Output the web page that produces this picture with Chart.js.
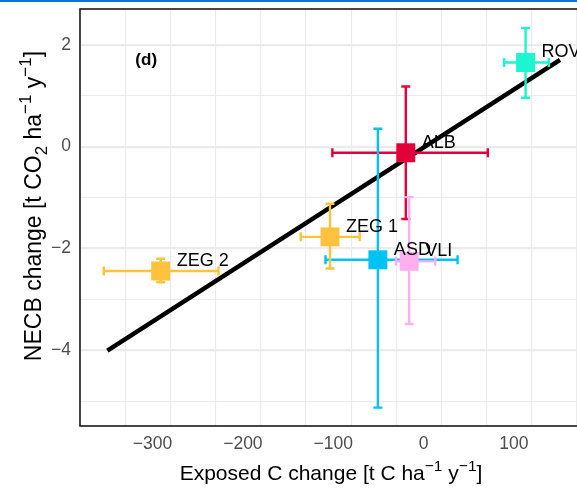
<!DOCTYPE html>
<html>
<head>
<meta charset="utf-8">
<script src="https://cdn.jsdelivr.net/npm/chart.js@4.4.1/dist/chart.umd.min.js"></script>
<style>
    html, body { margin: 0; padding: 0; background: #fff; overflow: hidden; }
    canvas { display: block; }
</style>
</head>
<body>
<canvas id="necbChart" width="577" height="489"></canvas>
<script>
// Site values
const sites = ['ALB', 'ASD', 'ROV', 'VLI', 'ZEG 1', 'ZEG 2'];
const exposedC = [-19.7, -50.6, 112.9, -16, -103.6, -291];
const exposedLow = [-101, -108.6, 89.2, -30.5, -136, -354];
const exposedHigh = [71.1, 37.6, 138.6, 12.9, -70.7, -227];
const necb = [-0.12, -2.22, 1.65, -2.25, -1.77, -2.44];
const necbLow = [-1.42, -5.12, 0.96, -3.48, -2.39, -2.66];
const necbHigh = [1.18, 0.35, 2.33, -0.99, -1.12, -2.20];
const siteColors = ['#E2003A', '#00C2F3', '#1CF5CF', '#FFAEF2', '#FFC23D', '#FFC23D'];

// Regression line end points
const fitX = [-350, 151];
const fitY = [-4.0, 1.70];

// Axis ranges and labelled ticks
const xRange = [-380.3, 169.8];
const yRange = [-5.48, 2.70];
const xTicks = [-300, -200, -100, 0, 100];
const yTicks = [-4, -2, 0, 2];
const panelTag = { text: '(d)', x: -307, y: 1.70 };

const FONT = '"Liberation Sans", Arial, Helvetica, sans-serif';

function fmtTick(v) {
    return v < 0 ? '\u2212' + Math.abs(v) : String(v);
}

// draw text with super/subscripts, centered on x
function drawRich(ctx, parts, x, y, size) {
    const widths = parts.map(p => {
        ctx.font = (p.sup || p.sub ? size * 0.74 : size) + 'px ' + FONT;
        return ctx.measureText(p.t).width;
    });
    const total = widths.reduce((a, b) => a + b, 0);
    let cx = x - total / 2;
    ctx.textAlign = 'left';
    ctx.textBaseline = 'alphabetic';
    parts.forEach((p, i) => {
        ctx.font = (p.sup || p.sub ? size * 0.74 : size) + 'px ' + FONT;
        let dy = 0;
        if (p.sup) dy = -size * 0.42;
        if (p.sub) dy = size * 0.25;
        ctx.fillText(p.t, cx, y + dy);
        cx += widths[i];
    });
}

const decorPlugin = {
    id: 'decor',
    beforeDraw(chart) {
        const ctx = chart.ctx;
        ctx.save();
        ctx.fillStyle = '#fff';
        ctx.fillRect(0, 0, chart.width, chart.height);
        ctx.restore();
    },
    beforeDatasetDraw(chart, args) {
        if (args.index !== 1) return;
        // error bars, under the squares
        const ctx = chart.ctx;
        const xs = chart.scales.x, ys = chart.scales.y;
        const cap = 4.5;
        ctx.save();
        ctx.lineWidth = 2.4;
        sites.forEach((s, i) => {
            const px = xs.getPixelForValue(exposedC[i]);
            const py = ys.getPixelForValue(necb[i]);
            const x0 = xs.getPixelForValue(exposedLow[i]);
            const x1 = xs.getPixelForValue(exposedHigh[i]);
            const y0 = ys.getPixelForValue(necbLow[i]);
            const y1 = ys.getPixelForValue(necbHigh[i]);
            ctx.strokeStyle = siteColors[i];
            ctx.beginPath();
            ctx.moveTo(x0, py); ctx.lineTo(x1, py);
            ctx.moveTo(x0, py - cap); ctx.lineTo(x0, py + cap);
            ctx.moveTo(x1, py - cap); ctx.lineTo(x1, py + cap);
            ctx.moveTo(px, y0); ctx.lineTo(px, y1);
            ctx.moveTo(px - cap, y0); ctx.lineTo(px + cap, y0);
            ctx.moveTo(px - cap, y1); ctx.lineTo(px + cap, y1);
            ctx.stroke();
        });
        ctx.restore();
    },
    afterDraw(chart) {
        const ctx = chart.ctx;
        const xs = chart.scales.x, ys = chart.scales.y;
        const area = chart.chartArea;
        ctx.save();

        // site labels
        ctx.fillStyle = '#000';
        ctx.font = '18px ' + FONT;
        ctx.textAlign = 'left';
        ctx.textBaseline = 'middle';
        sites.forEach((s, i) => {
            ctx.fillText(s, xs.getPixelForValue(exposedC[i]) + 16, ys.getPixelForValue(necb[i]) - 10);
        });

        // panel tag
        ctx.font = 'bold 17px ' + FONT;
        ctx.textAlign = 'center';
        ctx.fillText(panelTag.text, xs.getPixelForValue(panelTag.x), ys.getPixelForValue(panelTag.y));

        // tick labels
        ctx.fillStyle = '#4D4D4D';
        ctx.font = '17.5px ' + FONT;
        ctx.textAlign = 'center';
        ctx.textBaseline = 'middle';
        xTicks.forEach(v => ctx.fillText(fmtTick(v), xs.getPixelForValue(v), area.bottom + 18));
        ctx.textAlign = 'right';
        yTicks.forEach(v => ctx.fillText(fmtTick(v), area.left - 9, ys.getPixelForValue(v)));

        // panel border
        ctx.strokeStyle = '#1a1a1a';
        ctx.lineWidth = 1.6;
        ctx.strokeRect(area.left, area.top, area.right - area.left + 10, area.bottom - area.top);

        // strip on top of the image
        ctx.fillStyle = '#0A74CF';
        ctx.fillRect(0, 0, chart.width, 2);

        // axis titles
        ctx.fillStyle = '#000';
        drawRich(ctx, [
            { t: 'Exposed C change [t C ha' }, { t: '\u22121', sup: true },
            { t: ' y' }, { t: '\u22121', sup: true }, { t: ']' }
        ], 331, 480, 21);

        ctx.translate(41, 206);
        ctx.rotate(-Math.PI / 2);
        drawRich(ctx, [
            { t: 'NECB change [t CO' }, { t: '2', sub: true }, { t: ' ha' },
            { t: '\u22121', sup: true }, { t: ' y' }, { t: '\u22121', sup: true }, { t: ']' }
        ], 0, 0, 23);
        ctx.restore();
    }
};

const ctx = document.getElementById('necbChart');

new Chart(ctx, {
    type: 'scatter',
    data: {
        datasets: [
            {
                type: 'line',
                data: fitX.map((x, i) => ({ x: x, y: fitY[i] })),
                borderColor: '#000',
                borderWidth: 4.5,
                pointRadius: 0,
                order: 2
            },
            {
                data: exposedC.map((x, i) => ({ x: x, y: necb[i] })),
                pointStyle: 'rect',
                pointRadius: 13.4,
                pointHoverRadius: 13.4,
                backgroundColor: siteColors,
                borderWidth: 0,
                order: 1
            }
        ]
    },
    options: {
        responsive: false,
        animation: false,
        events: [],
        layout: { autoPadding: false, padding: { top: 9, right: 0, left: 0, bottom: 0 } },
        plugins: {
            legend: { display: false },
            tooltip: { enabled: false }
        },
        scales: {
            x: {
                type: 'linear',
                min: xRange[0],
                max: xRange[1],
                afterFit: (scale) => { scale.height = 63; },
                border: { display: false },
                grid: {
                    color: '#EBEBEB',
                    drawTicks: false,
                    lineWidth: (c) => (Math.round(c.tick.value) % 100 === 0 ? 2.2 : 1.1)
                },
                ticks: {
                    display: false,
                    stepSize: 50,
                    includeBounds: false,
                    autoSkip: false
                }
            },
            y: {
                min: yRange[0],
                max: yRange[1],
                afterFit: (scale) => { scale.width = 80; },
                border: { display: false },
                grid: {
                    color: '#EBEBEB',
                    drawTicks: false,
                    lineWidth: (c) => (Math.round(c.tick.value) % 2 === 0 ? 2.2 : 1.1)
                },
                ticks: {
                    display: false,
                    stepSize: 1,
                    includeBounds: false,
                    autoSkip: false
                }
            }
        }
    },
    plugins: [decorPlugin]
});
</script>
</body>
</html>
